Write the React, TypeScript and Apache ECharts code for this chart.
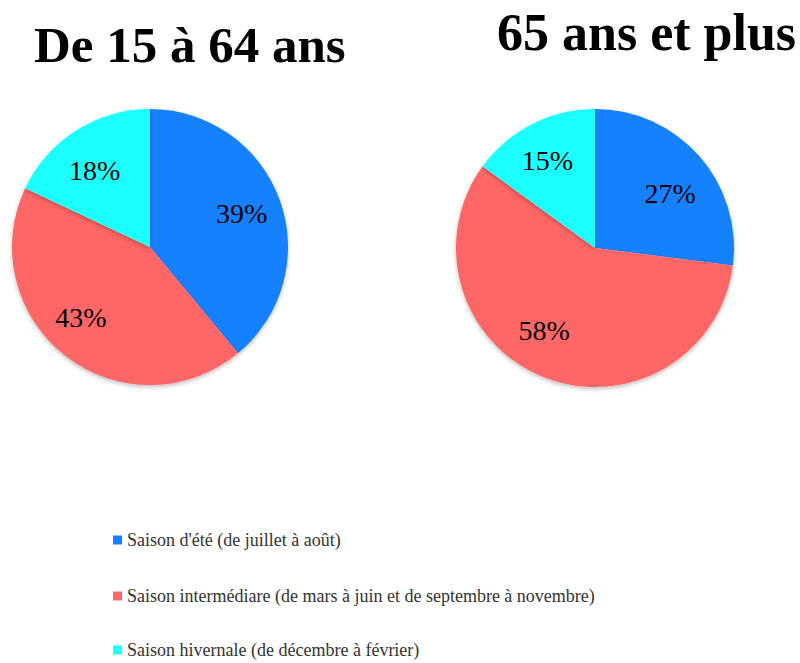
import React, { useEffect, useRef } from "react";
import * as echarts from "echarts";

const categories = [
  "Saison d'été (de juillet à août)",
  "Saison intermédiare (de mars à juin et de septembre à novembre)",
  "Saison hivernale (de décembre à février)",
];
const colors = ["#1381FF", "#FF6666", "#1FFFFF"];
const titles = ["De 15 à 64 ans", "65 ans et plus"];
const values15to64 = [39, 43, 18];
const values65plus = [27, 58, 15];

// small manual label nudges (styling only)
const labelNudges = [
  [[-2, 0], [-8, -8], [-2, 8]],
  [[0, 12], [-14, -11], [-2, 2]],
];

export default function App() {
  const ref = useRef<HTMLDivElement>(null);
  useEffect(() => {
    if (!ref.current) return;
    const chart = echarts.init(ref.current, null, { renderer: "svg" });
    const pies = [
      { vals: values15to64, center: [150, 247], r: 138 },
      { vals: values65plus, center: [595, 248], r: 139 },
    ];
    const series: any[] = [];
    pies.forEach((p) => {
      series.push({
        type: "pie",
        center: p.center,
        radius: [0, p.r],
        startAngle: 90,
        clockwise: true,
        data: p.vals.map((v, i) => ({ name: categories[i], value: v, itemStyle: { color: colors[i] } })),
        label: { show: false },
        labelLine: { show: false },
        itemStyle: {
          shadowBlur: 4,
          shadowColor: "rgba(0,0,0,0.25)",
          shadowOffsetY: 2,
        },
        silent: true,
      });
    });
    pies.forEach((p, pi) => {
      series.push({
        type: "pie",
        center: p.center,
        radius: [p.r * 0.4, p.r],
        startAngle: 90,
        clockwise: true,
        data: p.vals.map((v, i) => ({
          name: categories[i],
          value: v,
          label: { offset: labelNudges[pi][i] },
        })),
        itemStyle: { color: "transparent" },
        label: {
          show: true,
          position: "inside",
          formatter: "{c}%",
          color: "#000",
          fontFamily: "Liberation Serif",
          fontSize: 28,
        },
        labelLine: { show: false },
        silent: true,
      });
    });
    const legendTops = [533, 589, 643];
    chart.setOption({
      animation: false,
      backgroundColor: "#fff",
      title: [
        {
          text: titles[0],
          left: 29,
          top: 14,
          textStyle: { fontFamily: "Liberation Serif", fontWeight: "bold", fontSize: 51, color: "#000" },
        },
        {
          text: titles[1],
          left: 492,
          top: 1,
          textStyle: { fontFamily: "Liberation Serif", fontWeight: "bold", fontSize: 52, color: "#000" },
        },
      ],
      legend: categories.map((c, i) => ({
        orient: "vertical",
        left: 113,
        top: legendTops[i] - 2,
        padding: 0,
        itemWidth: 9,
        itemHeight: 9,
        icon: "rect",
        selectedMode: false,
        data: [{ name: c, itemStyle: { color: colors[i] } }],
        textStyle: { fontFamily: "Liberation Serif", fontSize: 18, color: "#333" },
      })),
      series,
    });
    return () => chart.dispose();
  }, []);
  return <div ref={ref} style={{ position: "fixed", left: 0, top: 0, width: 800, height: 663 }} />;
}
